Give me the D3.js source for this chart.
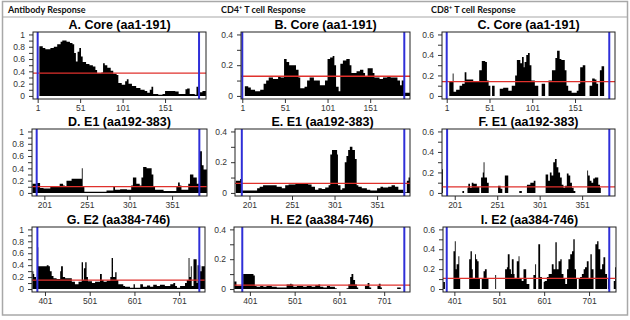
<!DOCTYPE html>
<html>
<head>
<meta charset="utf-8">
<script src="https://cdn.jsdelivr.net/npm/d3@7"></script>
<style>
    body { margin: 0; background: #fff; }
    #chart-area { width: 630px; height: 320px; }
</style>
</head>
<body>
<div id="chart-area"></div>
<script>

// ---- values ----
const columnHeaders = [["Antibody Response", ""], ["CD4", "+", " T cell Response"], ["CD8", "+", " T cell Response"]];
const panelTitles = ["A. Core (aa1-191)", "B. Core (aa1-191)", "C. Core (aa1-191)",
                     "D. E1 (aa192-383)", "E. E1 (aa192-383)", "F. E1 (aa192-383)",
                     "G. E2 (aa384-746)", "H. E2 (aa384-746)", "I. E2 (aa384-746)"];
const rowTicks = [[1, 51, 101, 151], [201, 251, 301, 351], [401, 501, 601, 701]];
const proteinBounds = [[1, 191], [192, 383], [384, 746]];
const columnMax = [1, 0.4, 0.6];
const cutoffs = [0.37, 0.128, 0.14, 0.104, 0.062, 0.059, 0.148, 0.026, 0.108];

// [residue, score] step profiles
const abCore = [[3,0.81],[7,0.78],[10,0.76],[16,0.78],[20,0.80],[24,0.84],[28,0.88],[30,0.90],[35,0.88],[39,0.86],[42,0.84],[44,0.70],[46,0.56],[48,0.72],[50,0.78],[52,0.64],[54,0.55],[58,0.52],[62,0.50],[66,0.48],[69,0.42],[71,0.37],[76,0.38],[78,0.53],[80,0.50],[83,0.46],[87,0.41],[90,0.36],[94,0.34],[96,0.21],[100,0.18],[104,0.24],[106,0.27],[108,0.20],[112,0.16],[117,0.13],[122,0.10],[127,0.08],[130,0.05],[133,0.10],[135,0.15],[137,0.03],[143,0.02],[148,0.03],[151,0.08],[163,0.07],[167,0.03],[175,0.11],[177,0.12],[180,0.03],[186,0.02],[188,0.15],[190,0.12],[192,0.06],[195,0.08],[200,0.08]];
const cd4Core = [[4,0.063],[8,0.055],[11,0.04],[16,0.03],[22,0.04],[26,0.08],[29,0.10],[32,0.12],[37,0.11],[43,0.13],[46,0.12],[50,0.24],[53,0.22],[56,0.20],[61,0.20],[64,0.17],[67,0.12],[69,0.05],[74,0.06],[77,0.10],[80,0.12],[85,0.10],[92,0.07],[98,0.10],[101,0.24],[104,0.25],[107,0.26],[109,0.20],[111,0.06],[114,0.03],[116,0.21],[119,0.23],[123,0.24],[127,0.20],[129,0.15],[135,0.16],[139,0.17],[143,0.15],[145,0.13],[148,0.18],[154,0.15],[156,0.12],[162,0.11],[166,0.12],[171,0.13],[175,0.12],[183,0.10],[186,0.07],[188,0.10],[191,0.02],[198,0.02]];
const cd8Core = [[4,0.14],[8,0.22],[9,0.04],[12,0.06],[16,0.10],[19,0.12],[22,0.23],[24,0.16],[32,0.14],[39,0.25],[42,0.34],[46,0.33],[48,0.15],[50,0.10],[52,0],[54,0.10],[57,0],[63,0.07],[67,0.08],[73,0.05],[77,0.10],[81,0.20],[83,0.35],[87,0.32],[89,0.38],[91,0.28],[92,0.33],[94,0.40],[96,0.42],[98,0.30],[100,0.15],[104,0.10],[108,0],[112,0.12],[116,0],[120,0.15],[124,0.25],[128,0.37],[130,0.44],[133,0.36],[135,0.35],[139,0.25],[141,0.10],[143,0.05],[147,0.03],[153,0.05],[155,0.12],[157,0.28],[160,0.30],[163,0],[168,0.10],[171,0.17],[174,0.16],[176,0.12],[178,0],[180,0.25],[182,0.29],[185,0],[186,0]];
const abE1 = [[187,0.15],[192,0.16],[196,0.08],[200,0.07],[208,0.10],[219,0.15],[223,0.12],[225,0.10],[227,0.20],[233,0.23],[245,0.40],[246,0.10],[248,0.02],[266,0.02],[274,0.04],[282,0.10],[284,0.05],[290,0.06],[298,0.05],[303,0.12],[305,0.25],[309,0.15],[313,0.12],[315,0.25],[317,0.42],[321,0.40],[327,0.30],[329,0.10],[331,0.05],[341,0.03],[349,0.03],[356,0.10],[358,0.17],[360,0.12],[362,0.05],[370,0.15],[372,0.30],[376,0.25],[380,0.15],[383,0.68],[386,0.45],[388,0.38],[393,0.38]];
const cd4E1 = [[185,0.08],[190,0.09],[192,0.015],[210,0.03],[213,0.04],[217,0.05],[233,0.04],[239,0.03],[243,0.05],[247,0.055],[255,0.06],[258,0.065],[262,0.06],[270,0.055],[274,0.04],[278,0.02],[282,0.03],[286,0.025],[290,0.035],[294,0.05],[296,0.25],[298,0.28],[304,0.25],[305,0.05],[308,0.02],[310,0.03],[313,0.20],[315,0.24],[317,0.28],[319,0.30],[322,0.28],[325,0.22],[327,0.05],[329,0.04],[333,0.03],[339,0.02],[343,0.015],[351,0.03],[355,0.04],[358,0.035],[364,0.04],[368,0.05],[372,0.04],[376,0.02],[382,0.005],[386,0.08],[388,0.10],[391,0.10]];
const cd8E1 = [[185,0.23],[187,0],[210,0.02],[212,0],[216,0.05],[217,0.09],[219,0.05],[221,0.10],[223,0.09],[227,0.06],[230,0],[232,0.15],[234,0.20],[235,0.30],[236,0.15],[239,0.10],[241,0],[252,0.07],[255,0.04],[257,0],[260,0.17],[264,0],[277,0.02],[280,0],[286,0.08],[290,0.10],[294,0.12],[296,0],[308,0.18],[311,0.12],[313,0.20],[315,0.17],[317,0.30],[319,0.33],[321,0.25],[323,0.20],[325,0.15],[327,0.08],[329,0.05],[331,0.07],[333,0.19],[335,0.17],[337,0.10],[339,0.05],[341,0.02],[343,0],[357,0.22],[358,0.17],[360,0.12],[362,0.10],[364,0.14],[366,0.15],[370,0.08],[372,0.05],[373,0],[390,0]];
const abE2 = [[373,0.30],[375,0.25],[377,0.20],[381,0.15],[384,0.70],[386,0.38],[405,0.40],[409,0.38],[412,0.30],[416,0.22],[420,0.18],[427,0.17],[435,0.30],[437,0.38],[441,0.20],[446,0.18],[461,0.12],[468,0.08],[476,0.12],[483,0.45],[486,0.15],[488,0.35],[491,0.45],[494,0.20],[497,0.13],[506,0.10],[513,0.12],[524,0.25],[528,0.15],[532,0.12],[539,0.14],[547,0.20],[550,0.52],[553,0.20],[558,0.28],[561,0.15],[565,0.08],[576,0.05],[580,0.04],[591,0.02],[599,0.08],[602,0.02],[614,0.08],[620,0.04],[629,0.06],[636,0.04],[643,0.07],[651,0.05],[658,0.07],[669,0.05],[681,0.08],[688,0.10],[692,0.05],[696,0.02],[703,0.05],[714,0.10],[718,0.15],[722,0.52],[724,0.20],[727,0.38],[729,0.05],[733,0.50],[740,0.10],[742,0.40],[748,0.30],[751,0.38],[759,0.38]];
const cd4E2 = [[366,0.05],[371,0.02],[386,0.10],[409,0.09],[412,0.02],[416,0.015],[424,0.02],[431,0.015],[438,0.02],[450,0.015],[461,0.01],[483,0.03],[491,0.035],[494,0.03],[498,0.015],[506,0.02],[520,0.015],[528,0.02],[539,0.015],[547,0.025],[554,0.03],[558,0.015],[565,0.01],[573,0.02],[580,0.015],[591,0.005],[595,0],[617,0.005],[621,0.03],[625,0.08],[628,0.10],[632,0.06],[636,0.03],[640,0.01],[643,0],[658,0.02],[664,0.04],[668,0.01],[672,0],[686,0.02],[689,0.035],[693,0.01],[696,0],[730,0.01],[738,0],[758,0]];
const cd8E2 = [[376,0.07],[380,0],[399,0.38],[402,0.48],[404,0.20],[406,0.25],[410,0.33],[412,0.10],[414,0],[434,0.30],[437,0.38],[440,0.20],[442,0.10],[447,0.35],[449,0.30],[452,0.28],[455,0.10],[458,0],[462,0.10],[466,0.18],[469,0.20],[473,0.10],[477,0],[492,0.14],[494,0],[514,0.20],[518,0.22],[520,0.35],[524,0.20],[527,0.15],[529,0.30],[533,0.15],[535,0.10],[540,0.28],[544,0.33],[546,0.10],[551,0.08],[555,0.20],[561,0.10],[562,0.05],[568,0],[577,0.14],[581,0.25],[583,0],[588,0.45],[592,0.12],[596,0],[600,0.07],[602,0.08],[607,0.12],[611,0.15],[618,0.25],[622,0.20],[626,0.47],[629,0.20],[633,0.28],[637,0.30],[640,0.15],[644,0.10],[648,0.05],[652,0.20],[655,0.30],[659,0.35],[663,0.38],[666,0.50],[669,0.20],[672,0.10],[674,0],[678,0.10],[681,0.12],[685,0.15],[689,0.20],[692,0.22],[696,0.28],[700,0.10],[704,0.35],[707,0.20],[711,0],[715,0.45],[719,0.48],[722,0.40],[726,0.20],[730,0.25],[733,0.32],[737,0.15],[741,0],[743,0.10],[747,0],[756,0.08],[759,0.22],[761,0.22]];

const profiles = [abCore, cd4Core, cd8Core, abE1, cd4E1, cd8E1, abE2, cd4E2, cd8E2];

// ---- layout (pixel boxes of each plot region + x range shown) ----
const rowBoxes = [[32, 99], [129, 196], [227, 292]];
const panelLayout = [
    {x: [33, 206], dom: [-4.5, 199.2]},
    {x: [241, 410], dom: [-0.5, 197.7]},
    {x: [442, 615], dom: [-4.5, 197.7]},
    {x: [32, 207], dom: [186.5, 392]},
    {x: [235, 410], dom: [184, 389.7]},
    {x: [442, 615], dom: [186, 389.7]},
    {x: [32, 205], dom: [372, 758.7]},
    {x: [234, 410], dom: [365.5, 758.7]},
    {x: [443, 616], dom: [375.7, 761]}
];

class ResponsePanel {

    constructor(svg, index, data) {
        this.svg = svg;
        this.index = index;
        this.data = data;

        this.initVis();
    }

    initVis() {
        let vis = this;

        vis.row = Math.floor(vis.index / 3);
        vis.col = vis.index % 3;
        let lay = panelLayout[vis.index];
        vis.left = lay.x[0];
        vis.right = lay.x[1];
        vis.top = rowBoxes[vis.row][0];
        vis.bottom = rowBoxes[vis.row][1];
        vis.ymax = columnMax[vis.col];

        vis.x = d3.scaleLinear().domain(lay.dom).range([vis.left, vis.right]);
        vis.y = d3.scaleLinear().domain([-0.05 * vis.ymax, 1.04 * vis.ymax]).range([vis.bottom, vis.top]);

        vis.g = vis.svg.append("g").attr("class", "panel");

        vis.g.append("clipPath")
            .attr("id", "clip" + vis.index)
            .append("rect")
            .attr("x", vis.left).attr("y", vis.top)
            .attr("width", vis.right - vis.left).attr("height", vis.bottom - vis.top);

        // title
        vis.g.append("text")
            .attr("x", (vis.left + vis.right) / 2)
            .attr("y", vis.top - 3)
            .attr("text-anchor", "middle")
            .attr("font-family", "Liberation Sans, Arial, sans-serif")
            .attr("font-weight", "bold")
            .attr("font-size", "12.5px")
            .text(panelTitles[vis.index]);

        // y axis: ticks every 0.1, labels every 0.2
        let nTicks = Math.round(vis.ymax * 10);
        let yTicks = d3.range(0, nTicks + 1).map(i => i / 10);
        vis.g.append("g")
            .attr("transform", `translate(${vis.left},0)`)
            .call(d3.axisLeft(vis.y)
                .tickValues(yTicks)
                .tickSize(4)
                .tickPadding(4)
                .tickFormat(d => Math.round(d * 10) % 2 === 0 ? d3.format("~g")(d) : ""))
            .call(g => g.select(".domain").remove());

        // x axis
        vis.g.append("g")
            .attr("transform", `translate(0,${vis.bottom})`)
            .call(d3.axisBottom(vis.x)
                .tickValues(rowTicks[vis.row])
                .tickSize(4)
                .tickPadding(2))
            .call(g => g.select(".domain").remove());

        vis.g.selectAll(".tick line").attr("stroke", "#333");
        vis.g.selectAll(".tick text")
            .attr("fill", "#333")
            .attr("font-family", "Liberation Sans, Arial, sans-serif")
            .attr("font-size", "8.5px");

        vis.wrangleData();
    }

    wrangleData() {
        let vis = this;

        vis.points = vis.data.map(d => ({pos: d[0], value: d[1]}));

        vis.updateVis();
    }

    updateVis() {
        let vis = this;

        let plot = vis.g.append("g").attr("clip-path", `url(#clip${vis.index})`);

        let area = d3.area()
            .curve(d3.curveStepAfter)
            .x(d => vis.x(d.pos))
            .y0(vis.y(0))
            .y1(d => vis.y(d.value));

        plot.append("path")
            .datum(vis.points)
            .attr("d", area)
            .attr("fill", "#000");

        // threshold line
        plot.append("line")
            .attr("x1", vis.left).attr("x2", vis.right)
            .attr("y1", vis.y(cutoffs[vis.index])).attr("y2", vis.y(cutoffs[vis.index]))
            .attr("stroke", "#e0312c")
            .attr("stroke-width", 1.3);

        // protein boundaries
        plot.selectAll(".bound")
            .data(proteinBounds[vis.row])
            .enter().append("line")
            .attr("class", "bound")
            .attr("x1", d => vis.x(d)).attr("x2", d => vis.x(d))
            .attr("y1", vis.top).attr("y2", vis.bottom)
            .attr("stroke", "#2f2fd8")
            .attr("stroke-width", 2);

        vis.g.append("rect")
            .attr("x", vis.left).attr("y", vis.top)
            .attr("width", vis.right - vis.left).attr("height", vis.bottom - vis.top)
            .attr("fill", "none")
            .attr("stroke", "#222")
            .attr("stroke-width", 1);
    }
}

let svg = d3.select("#chart-area")
    .append("svg")
    .attr("width", 630)
    .attr("height", 320);

// outer frame + header strip
svg.append("rect")
    .attr("x", 2.5).attr("y", 1.5)
    .attr("width", 625).attr("height", 313.5)
    .attr("fill", "none")
    .attr("stroke", "#a8a8a8")
    .attr("stroke-width", 1.5);

svg.append("line")
    .attr("x1", 2.5).attr("x2", 627.5)
    .attr("y1", 17).attr("y2", 17)
    .attr("stroke", "#a8a8a8")
    .attr("stroke-width", 1.2);

let headerX = [8, 221, 431];
columnHeaders.forEach((h, i) => {
    let t = svg.append("text")
        .attr("x", headerX[i])
        .attr("y", 12.5)
        .attr("font-family", "Lato, 'Liberation Sans', sans-serif")
        .attr("font-weight", "bold")
        .attr("font-size", "9px")
        .attr("fill", "#111");
    t.append("tspan").text(h[0]);
    if (h.length > 2) {
        t.append("tspan").attr("dy", -3.5).attr("font-size", "5.5px").text(h[1]);
        t.append("tspan").attr("dy", 3.5).text(h[2]);
    }
});

profiles.forEach((p, i) => new ResponsePanel(svg, i, p));

</script>
</body>
</html>
